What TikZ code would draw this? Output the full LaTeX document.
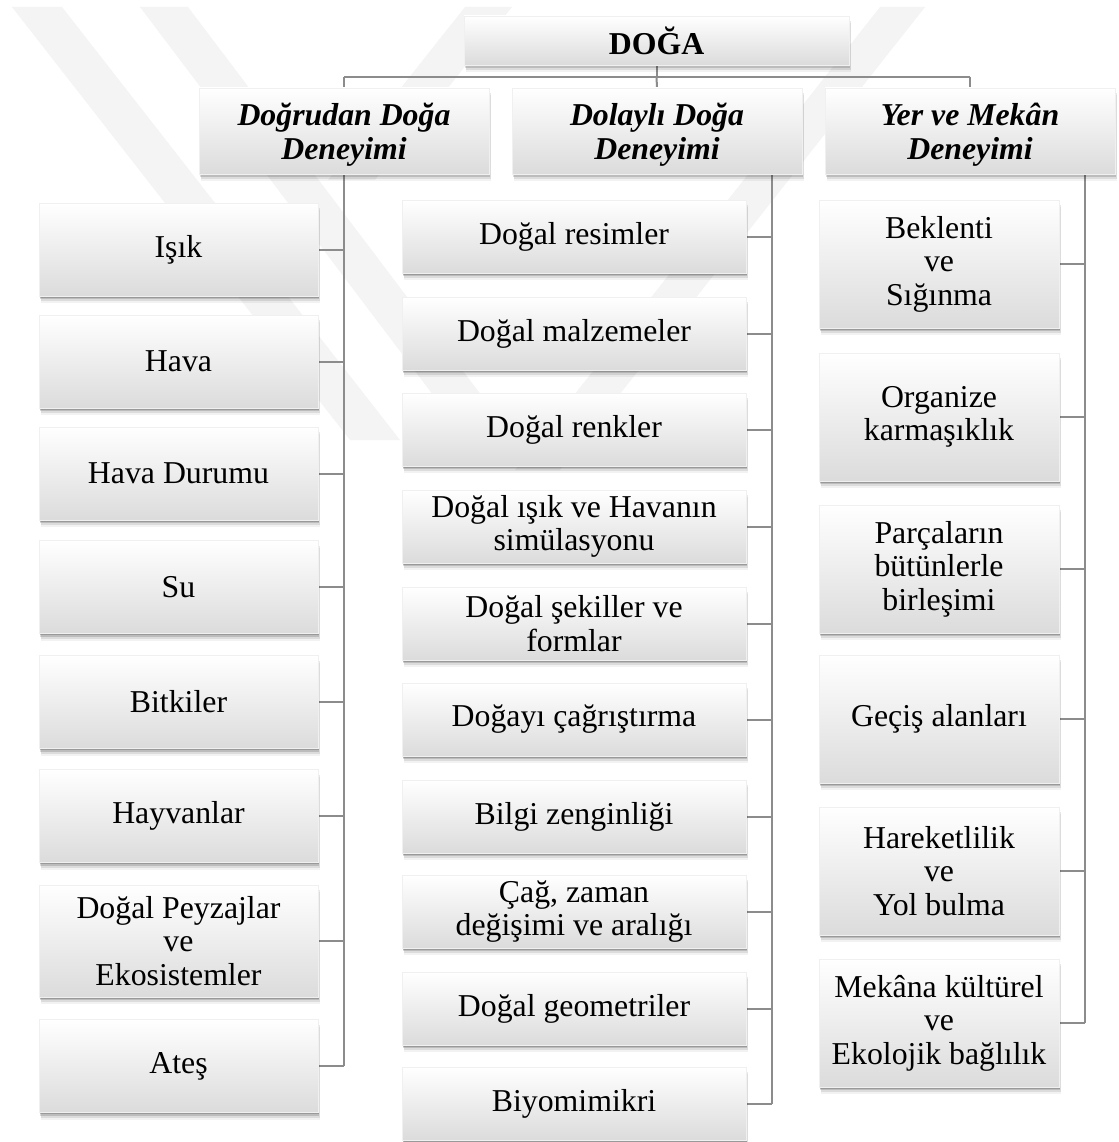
\documentclass[tikz,border=0pt]{standalone}
\usepackage{fontspec}
\setmainfont{Liberation Serif}
\usetikzlibrary{shadows,backgrounds}
\begin{document}
\begin{tikzpicture}[x=1pt,y=1pt,
  box/.style={rectangle, inner sep=2pt, align=center,
    top color=white, middle color=white, bottom color=black!14,
    draw=black!6, line width=0.5pt,
    drop shadow={shadow xshift=0.5pt, shadow yshift=-1.5pt, opacity=0.18, fill=black},
    drop shadow={shadow xshift=1pt, shadow yshift=-3pt, opacity=0.14, fill=black},
    drop shadow={shadow xshift=1.5pt, shadow yshift=-5pt, opacity=0.09, fill=black},
    drop shadow={shadow xshift=2pt, shadow yshift=-7pt, opacity=0.05, fill=black},
    font=\fontsize{31.8}{33.5}\selectfont},
  head/.style={box, minimum width=290pt, minimum height=86pt,
    font=\fontsize{31.8}{34}\selectfont\bfseries\itshape},
  lbox/.style={box, minimum width=279pt, minimum height=93pt},
  mbox/.style={box, minimum width=344pt, minimum height=73pt},
  rbox/.style={box, minimum width=240pt, minimum height=128pt},
  conn/.style={draw=black!45, line width=2pt},
  wm/.style={fill=black!4.5, draw=none}]
\useasboundingbox (0,0) rectangle (1118,-1142);

% white page and watermark
\begin{scope}[on background layer]
\fill[white] (0,0) rectangle (1118,-1142);
\fill[wm] (12,-7) -- (62,-7) -- (400,-440) -- (350,-440) -- cycle;
\fill[wm] (140,-7) -- (188,-7) -- (500,-420) -- (452,-420) -- cycle;
\fill[wm] (880,-7) -- (925,-7) -- (560,-470) -- (515,-470) -- cycle;
\fill[wm] (465,-7) -- (512,-7) -- (375,-180) -- (328,-180) -- cycle;
\end{scope}

% top
\node[box, minimum width=385pt, minimum height=49pt,
  font=\fontsize{31.8}{33.5}\selectfont\bfseries] (doga) at (656.5,-40.5) {DOĞA};
\node[head] (A) at (344,-131) {\rule{0pt}{30pt}Doğrudan Doğa\\Deneyimi};
\node[head] (B) at (657,-131) {\rule{0pt}{30pt}Dolaylı Doğa\\Deneyimi};
\node[head] (C) at (970,-131) {\rule{0pt}{30pt}Yer ve Mekân\\Deneyimi};

% left column
\node[lbox] (l1) at (178.5,-249.5) {Işık};
\node[lbox] (l2) at (178.5,-361.5) {Hava};
\node[lbox] (l3) at (178.5,-473.5) {Hava Durumu};
\node[lbox] (l4) at (178.5,-587) {Su};
\node[lbox] (l5) at (178.5,-702) {Bitkiler};
\node[lbox] (l6) at (178.5,-816) {Hayvanlar};
\node[lbox, minimum height=112pt] (l7) at (178.5,-941) {Doğal Peyzajlar\\ve\\Ekosistemler};
\node[lbox] (l8) at (178.5,-1066) {Ateş};

% middle column
\node[mbox] (m1) at (574,-236.5) {Doğal resimler};
\node[mbox] (m2) at (574,-333.5) {Doğal malzemeler};
\node[mbox] (m3) at (574,-429.5) {Doğal renkler};
\node[mbox] (m4) at (574,-526.5) {Doğal ışık ve Havanın\\simülasyonu};
\node[mbox] (m5) at (574,-623.5) {Doğal şekiller ve\\formlar};
\node[mbox] (m6) at (574,-719.5) {Doğayı çağrıştırma};
\node[mbox] (m7) at (574,-816.5) {Bilgi zenginliği};
\node[mbox] (m8) at (574,-911.5) {Çağ, zaman\\değişimi ve aralığı};
\node[mbox] (m9) at (574,-1008.5) {Doğal geometriler};
\node[mbox] (m10) at (574,-1103.5) {Biyomimikri};

% right column
\node[rbox] (r1) at (939,-264) {Beklenti\\ve\\Sığınma};
\node[rbox] (r2) at (939,-417) {Organize\\karmaşıklık};
\node[rbox] (r3) at (939,-569) {Parçaların\\bütünlerle\\birleşimi};
\node[rbox] (r4) at (939,-719) {Geçiş alanları};
\node[rbox] (r5) at (939,-871) {Hareketlilik\\ve\\Yol bulma};
\node[rbox] (r6) at (939,-1023) {Mekâna kültürel\\ve\\Ekolojik bağlılık};

% connectors
\coordinate (busL) at (344,-77);
\coordinate (busR) at (970,-77);
\coordinate (lc) at (344,0);
\coordinate (mc) at (772,0);
\coordinate (rc) at (1085,0);
\begin{scope}[on background layer]
\draw[conn] (doga.south) -- (doga.south |- busL);
\draw[conn] (busL) -- (busR);
\draw[conn] (busL) -- (A.north);
\draw[conn] (doga.south |- busL) -- (B.north);
\draw[conn] (busR) -- (C.north);
\draw[conn] (A.south) -- (l8.east -| lc);
\draw[conn] (B.south -| mc) -- (m10.east -| mc);
\draw[conn] (C.south -| rc) -- (r6.east -| rc);
\foreach \n in {l1,l2,l3,l4,l5,l6,l7,l8}
  \draw[conn] (\n.east) -- (\n.east -| lc);
\foreach \n in {m1,m2,m3,m4,m5,m6,m7,m8,m9,m10}
  \draw[conn] (\n.east) -- (\n.east -| mc);
\foreach \n in {r1,r2,r3,r4,r5,r6}
  \draw[conn] (\n.east) -- (\n.east -| rc);
\end{scope}
\end{tikzpicture}
\end{document}
